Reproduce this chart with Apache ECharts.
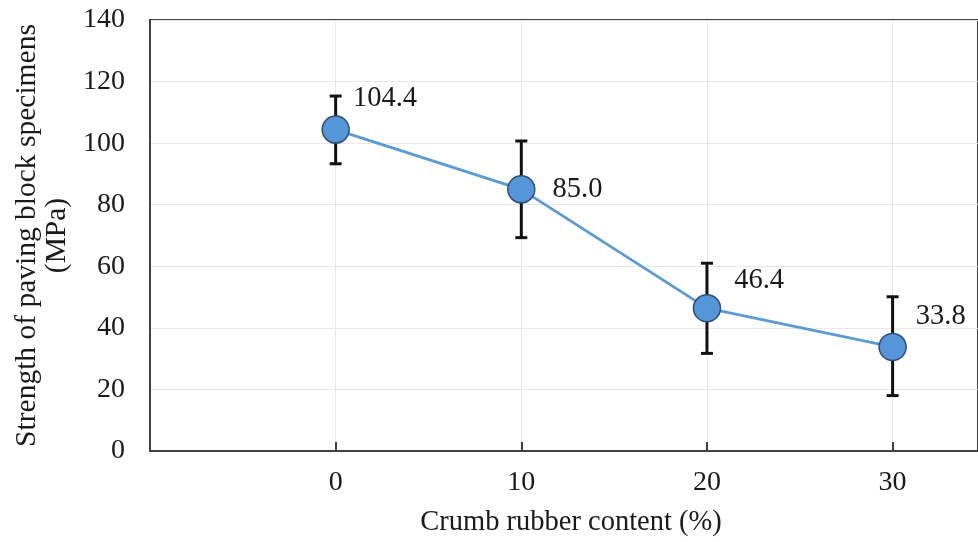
<!DOCTYPE html>
<html><head><meta charset="utf-8">
<script src="https://cdn.jsdelivr.net/npm/echarts@6/dist/echarts.min.js"></script>
<style>html,body{margin:0;padding:0;background:#fff}#c{width:978px;height:542px}</style>
</head><body><div id="c"></div>
<script>
const rubberContent = [0, 10, 20, 30];
const strength = [104.4, 85.0, 46.4, 33.8];
const errLow = [93.3, 69.3, 31.7, 18.0];
const errHigh = [115.3, 100.7, 61.0, 50.1];
const yTicks = [0, 20, 40, 60, 80, 100, 120, 140];
const labelTexts = ['104.4', '85.0', '46.4', '33.8'];

const FONT = 'Liberation Serif';
const labelOffsets = [[-2, -31], [12, 0], [8, -28], [4, -30]];

const chart = echarts.init(document.getElementById('c'), null, {renderer: 'canvas'});
const option = {
  animation: false,
  backgroundColor: '#fff',
  textStyle: {fontFamily: FONT},
  grid: {left: 150, right: -4, top: 20, bottom: 91, show: true, borderColor: '#404040', borderWidth: 2, containLabel: false},
  xAxis: {
    type: 'value', min: -10, max: 34.6, interval: 10,
    name: 'Crumb rubber content (%)', nameLocation: 'middle', nameGap: 57,
    nameTextStyle: {fontFamily: FONT, fontSize: 28.5, color: '#1a1a1a', padding: [0, 0, 0, 14]},
    axisLine: {show: true, onZero: false, lineStyle: {color: '#404040', width: 2}},
    axisTick: {show: true, inside: true, length: 9, lineStyle: {color: '#404040', width: 2}},
    axisLabel: {margin: 18, fontFamily: FONT, fontSize: 28, color: '#1a1a1a', showMaxLabel: false,
      formatter: v => rubberContent.includes(v) ? String(v) : ''},
    splitLine: {show: true, lineStyle: {color: '#e8e8e8', width: 1}}
  },
  yAxis: {
    type: 'value', min: yTicks[0], max: yTicks[yTicks.length - 1], interval: 20,
    name: 'Strength of paving block specimens\n(MPa)', nameLocation: 'middle', nameGap: 74,
    nameTextStyle: {fontFamily: FONT, fontSize: 29.5, color: '#1a1a1a', lineHeight: 30},
    axisLine: {show: true, onZero: false, lineStyle: {color: '#404040', width: 2}},
    axisTick: {show: false},
    axisLabel: {margin: 25, fontFamily: FONT, fontSize: 28, color: '#1a1a1a'},
    splitLine: {show: true, lineStyle: {color: '#e8e8e8', width: 1}}
  },
  series: [
    {
      type: 'custom', z: 1,
      data: rubberContent.map((x, i) => [x, errLow[i], errHigh[i]]),
      renderItem: function (params, api) {
        const x = api.value(0);
        const lo = api.coord([x, api.value(1)]);
        const hi = api.coord([x, api.value(2)]);
        const cap = 6;
        const st = {stroke: '#111', lineWidth: 3};
        return {type: 'group', children: [
          {type: 'line', shape: {x1: lo[0], y1: lo[1], x2: hi[0], y2: hi[1]}, style: st},
          {type: 'line', shape: {x1: lo[0] - cap, y1: lo[1], x2: lo[0] + cap, y2: lo[1]}, style: st},
          {type: 'line', shape: {x1: hi[0] - cap, y1: hi[1], x2: hi[0] + cap, y2: hi[1]}, style: st}
        ]};
      }
    },
    {
      type: 'line', z: 3,
      data: rubberContent.map((x, i) => ({
        value: [x, strength[i]],
        label: {offset: labelOffsets[i]}
      })),
      symbol: 'circle', symbolSize: 27,
      lineStyle: {color: '#5B9BD5', width: 2.8},
      itemStyle: {color: '#5596D8', borderColor: '#2F4E78', borderWidth: 1.5},
      label: {show: true, position: 'right', distance: 5, fontFamily: FONT, fontSize: 28.5, color: '#1a1a1a',
        formatter: p => labelTexts[p.dataIndex]}
    }
  ]
};
chart.setOption(option);
</script></body></html>
